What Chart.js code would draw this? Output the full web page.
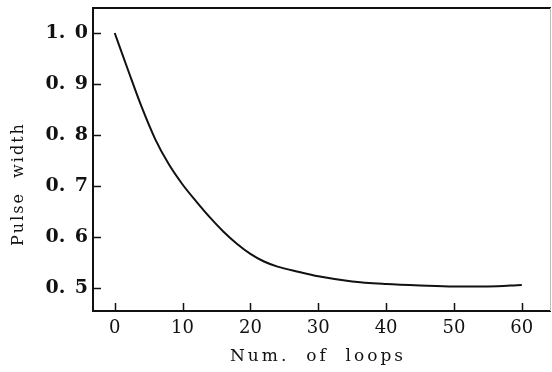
<!DOCTYPE html>
<html>
<head>
<meta charset="utf-8">
<script src="https://cdn.jsdelivr.net/npm/chart.js@4"></script>
<style>
  html, body { margin: 0; padding: 0; background: #fff; }
  #wrap { width: 552px; height: 372px; }
</style>
</head>
<body>
<div id="wrap"><canvas id="chart" width="552" height="372"></canvas></div>
<script>
// curve
const loops = [0, 2, 4, 6, 8, 10, 12, 14, 16, 18, 20, 22, 24, 27, 30, 35, 40, 45, 50, 55, 60];
const widths = [1.0, 0.926, 0.854, 0.791, 0.742, 0.703, 0.670, 0.639, 0.611, 0.587, 0.567, 0.552, 0.542, 0.532, 0.523, 0.513, 0.508, 0.505, 0.503, 0.503, 0.506];

const xTicks = [0, 10, 20, 30, 40, 50, 60];
const yTicks = [0.5, 0.6, 0.7, 0.8, 0.9, 1.0];
const yTickLabels = ['0.\u20025', '0.\u20026', '0.\u20027', '0.\u20028', '0.\u20029', '1.\u20020'];

const xTitle = 'Num.  of  loops';
const yTitle = 'Pulse  width';

const SERIF = '"DejaVu Serif", "Liberation Serif", serif';
const INK = '#111';

// frame, inward tick marks and axis titles
const framePlugin = {
    id: 'frame',
    afterDraw(chart) {
        const ctx = chart.ctx;
        const a = chart.chartArea;
        const xs = chart.scales.x;
        const ys = chart.scales.y;
        ctx.save();
        ctx.strokeStyle = INK;
        ctx.lineWidth = 2;
        ctx.beginPath();
        ctx.moveTo(a.right, a.top);
        ctx.lineTo(a.left, a.top);
        ctx.lineTo(a.left, a.bottom);
        ctx.lineTo(a.right, a.bottom);
        ctx.stroke();
        ctx.strokeStyle = '#bbb';
        ctx.lineWidth = 1;
        ctx.beginPath();
        ctx.moveTo(a.right - 0.5, a.top);
        ctx.lineTo(a.right - 0.5, a.bottom);
        ctx.stroke();

        ctx.strokeStyle = INK;
        ctx.lineWidth = 1.5;
        ctx.beginPath();
        xTicks.forEach(v => {
            const px = Math.round(xs.getPixelForValue(v)) + 0.5;
            ctx.moveTo(px, a.bottom);
            ctx.lineTo(px, a.bottom - 8);
        });
        yTicks.forEach(v => {
            const py = Math.round(ys.getPixelForValue(v)) + 0.5;
            ctx.moveTo(a.left, py);
            ctx.lineTo(a.left + 8, py);
        });
        ctx.stroke();

        ctx.fillStyle = INK;
        ctx.textAlign = 'center';
        ctx.textBaseline = 'middle';
        ctx.font = '17px ' + SERIF;
        ctx.letterSpacing = '3px';
        ctx.fillText(xTitle, 318, 357);
        ctx.font = '16px ' + SERIF;
        ctx.letterSpacing = '2px';
        ctx.translate(19, 184);
        ctx.rotate(-Math.PI / 2);
        ctx.fillText(yTitle, 0, 0);
        ctx.restore();
    }
};

new Chart(document.getElementById('chart'), {
    type: 'scatter',
    data: {
        datasets: [{
            data: loops.map((x, i) => ({ x: x, y: widths[i] })),
            showLine: true,
            borderColor: INK,
            borderWidth: 2,
            pointRadius: 0,
            cubicInterpolationMode: 'monotone',
            fill: false
        }]
    },
    plugins: [framePlugin],
    options: {
        responsive: false,
        animation: false,
        devicePixelRatio: 1,
        layout: { padding: { top: 8, right: 1, left: 0, bottom: 0 } },
        plugins: {
            legend: { display: false },
            tooltip: { enabled: false }
        },
        scales: {
            x: {
                type: 'linear',
                min: -3.2,
                max: 64.3,
                afterBuildTicks: s => { s.ticks = xTicks.map(v => ({ value: v })); },
                afterFit: s => { s.height = 61; s.paddingLeft = 0; s.paddingRight = 0; },
                grid: { display: false, drawTicks: false },
                border: { display: false },
                ticks: {
                    autoSkip: false,
                    maxRotation: 0,
                    padding: 7,
                    color: INK,
                    font: { family: SERIF, size: 18 }
                }
            },
            y: {
                type: 'linear',
                min: 0.455,
                max: 1.049,
                afterBuildTicks: s => { s.ticks = yTicks.map(v => ({ value: v })); },
                afterFit: s => { s.width = 93; s.paddingTop = 0; s.paddingBottom = 0; },
                grid: { display: false, drawTicks: false },
                border: { display: false },
                ticks: {
                    autoSkip: false,
                    padding: 5,
                    color: INK,
                    font: { family: SERIF, size: 19, weight: 'bold' },
                    callback: (v) => yTickLabels[yTicks.indexOf(Math.round(v * 10) / 10)]
                }
            }
        }
    }
});
</script>
</body>
</html>
